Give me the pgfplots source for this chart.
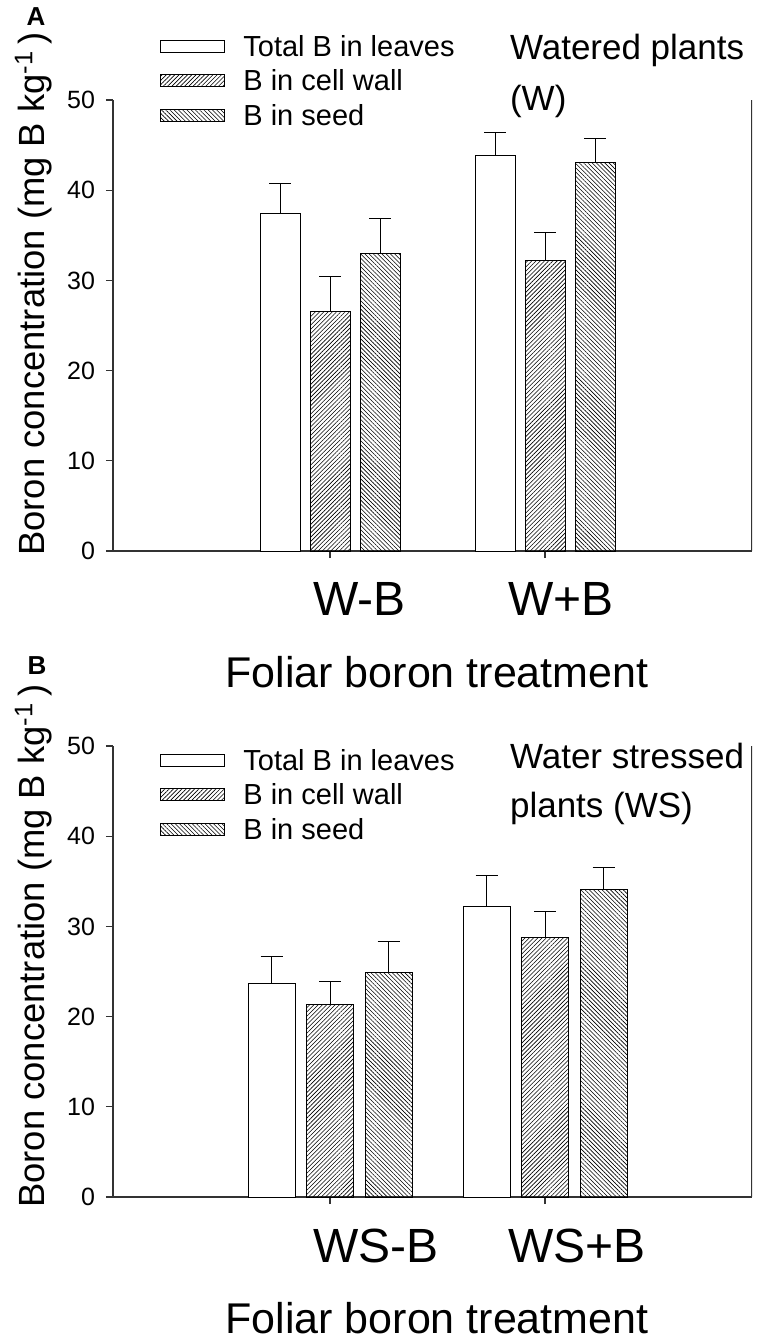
\documentclass[border=0pt]{standalone}
\usepackage{pgfplots}
\pgfplotsset{compat=1.18}
\usepackage{pgfplotstable}
\usepackage{fontspec}
\setmainfont{Liberation Sans}
\usetikzlibrary{patterns.meta}

% group, value, upper error
\pgfplotstableread{
x tot totE cell cellE seed seedE
0 37.4 3.3 26.5 3.9 33.0 3.9
1 43.9 2.5 32.2 3.1 43.1 2.6
}\dataW
\pgfplotstableread{
x tot totE cell cellE seed seedE
0 23.7 3.0 21.3 2.6 24.9 3.4
1 32.2 3.5 28.8 2.9 34.1 2.4
}\dataWS

\tikzset{
  hatchNE/.style={pattern={Lines[angle=45,distance=1.5pt,line width=0.3pt]}},
  hatchNW/.style={pattern={Lines[angle=-45,distance=1.5pt,line width=0.3pt]}},
}

\pgfplotsset{
  boronaxis/.style={
    anchor=south west, scale only axis,
    width=319.5pt, height=225.5pt,
    xmin=-1.01, xmax=1.963, ymin=0, ymax=50,
    axis x line*=bottom, axis y line*=left,
    xtick={0,1}, xticklabels={}, ytick={0,10,...,50},
    tick align=outside, major tick length=3.5pt,
    tick style={black!80, line width=0.6pt},
    axis line style={black!80, line width=0.7pt},
    ticklabel style={font=\fontsize{12.5}{14}\selectfont},
    yticklabel style={xshift=-2pt},
    /pgf/number format/assume math mode=true,
    legend cell align=left,
    legend style={draw=none, fill=none, at={(rel axis cs:0,1)}, anchor=north west,
      xshift=23.5pt, inner sep=0pt, row sep=7.2pt, column sep=9pt,
      font=\fontsize{14.5}{16}\selectfont,
      nodes={inner sep=0pt, text height=10pt, text depth=0pt}},
  },
  boxlegend/.style={legend image code/.code={\draw[##1, line width=0.5pt] (0pt,-3pt) rectangle (32pt,3pt);}},
  errs/.style={error bars/.cd, y dir=plus, y explicit,
    error bar style={line width=0.5pt, black},
    error mark options={rotate=90, mark size=5.5pt, line width=0.5pt, black}},
}

\begin{document}
\begin{tikzpicture}
\useasboundingbox (0,0) rectangle (383.5pt,-670pt);

% panel A
\begin{axis}[boronaxis, at={(56.5pt,-275.5pt)},
  ybar=5pt, bar width=20pt,
  legend style={yshift=32pt}]
\addplot[draw=black, fill=white, line width=0.5pt, boxlegend, errs]
  table[x=x, y=tot, y error=totE] {\dataW};
\addplot[draw=black, hatchNE, line width=0.5pt, boxlegend, errs]
  table[x=x, y=cell, y error=cellE] {\dataW};
\addplot[draw=black, hatchNW, line width=0.5pt, boxlegend, errs]
  table[x=x, y=seed, y error=seedE] {\dataW};
\legend{Total B in leaves, B in cell wall, B in seed}
\draw[black!80, line width=0.7pt] (rel axis cs:1,0) -- (rel axis cs:1,1);
\end{axis}

% panel B
\begin{axis}[boronaxis, at={(56.5pt,-598.5pt)},
  ybar=5.75pt, bar width=23.5pt,
  legend style={yshift=-2pt}]
\addplot[draw=black, fill=white, line width=0.5pt, boxlegend, errs]
  table[x=x, y=tot, y error=totE] {\dataWS};
\addplot[draw=black, hatchNE, line width=0.5pt, boxlegend, errs]
  table[x=x, y=cell, y error=cellE] {\dataWS};
\addplot[draw=black, hatchNW, line width=0.5pt, boxlegend, errs]
  table[x=x, y=seed, y error=seedE] {\dataWS};
\legend{Total B in leaves, B in cell wall, B in seed}
\draw[black!80, line width=0.7pt] (rel axis cs:1,0) -- (rel axis cs:1,1);
\end{axis}

% panel letters
\node[font=\bfseries\fontsize{13}{15}\selectfont] at (18pt,-8.5pt) {A};
\node[font=\bfseries\fontsize{13}{15}\selectfont] at (18.5pt,-333pt) {B};

% y labels
\node[rotate=90, anchor=base, font=\fontsize{18.2}{21}\selectfont] at (22.5pt,-147pt)
  {Boron concentration (mg B kg\textsuperscript{-1}\,)};
\node[rotate=90, anchor=base, font=\fontsize{18.2}{21}\selectfont] at (22.5pt,-473pt)
  {Boron concentration (mg B kg\textsuperscript{-1}\,)};

% category labels
\node[anchor=base west, font=\fontsize{24}{28}\selectfont] at (153pt,-307.5pt) {W-B};
\node[anchor=base west, font=\fontsize{24}{28}\selectfont] at (250.5pt,-307.5pt) {W+B};
\node[anchor=base west, font=\fontsize{24}{28}\selectfont] at (153pt,-631pt) {WS-B};
\node[anchor=base west, font=\fontsize{24}{28}\selectfont] at (250.5pt,-631pt) {WS+B};

% x labels
\node[anchor=base, font=\fontsize{21.5}{25}\selectfont] at (218.5pt,-343.5pt) {Foliar boron treatment};
\node[anchor=base, font=\fontsize{21.5}{25}\selectfont] at (218.5pt,-666.5pt) {Foliar boron treatment};

% panel notes
\node[anchor=base west, font=\fontsize{17.5}{20}\selectfont] at (251.5pt,-29.5pt) {Watered plants};
\node[anchor=base west, font=\fontsize{17.5}{20}\selectfont] at (251.5pt,-55pt) {(W)};
\node[anchor=base west, font=\fontsize{17.5}{20}\selectfont] at (251.5pt,-384pt) {Water stressed};
\node[anchor=base west, font=\fontsize{17.5}{20}\selectfont] at (251.5pt,-408.5pt) {plants (WS)};
\end{tikzpicture}
\end{document}
